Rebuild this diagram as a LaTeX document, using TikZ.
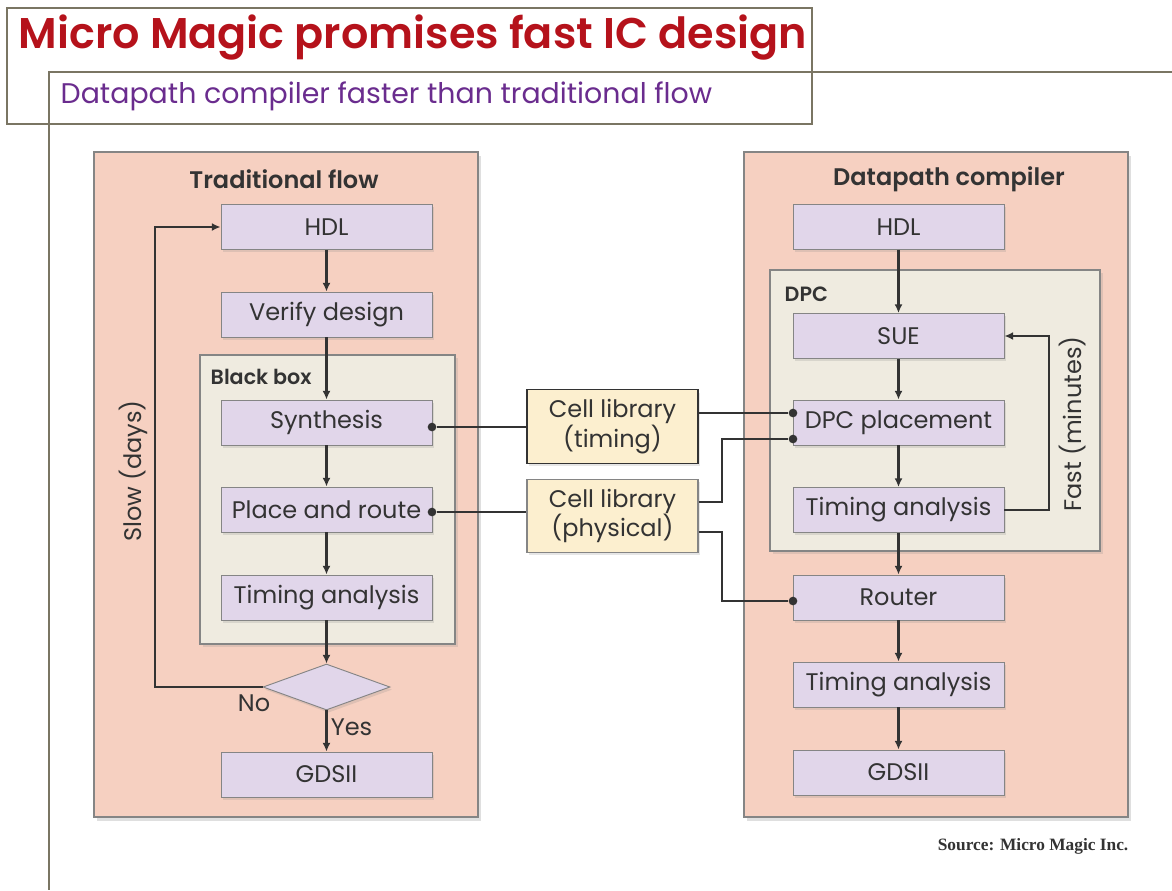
\documentclass[tikz,border=0pt]{standalone}
\usepackage{fontspec}
\setmainfont{Poppins}[BoldFont=* SemiBold]
\usetikzlibrary{arrows.meta,shapes.geometric,shadows}
\definecolor{frameline}{HTML}{7A7563}
\definecolor{titlered}{HTML}{B5121B}
\definecolor{subpurple}{HTML}{6A2C8E}
\definecolor{salmon}{HTML}{F6D0C1}
\definecolor{lilac}{HTML}{E1D6EA}
\definecolor{beige}{HTML}{EFEBE0}
\definecolor{cream}{HTML}{FCEFCF}
\definecolor{bordergray}{HTML}{858585}
\definecolor{ink}{HTML}{333333}
\tikzset{
  panel/.style={draw=bordergray, line width=1pt, fill=salmon, drop shadow={opacity=0.25, shadow xshift=2pt, shadow yshift=-3pt}},
  inner/.style={draw=bordergray, line width=0.8pt, fill=beige, drop shadow={opacity=0.2, shadow xshift=2pt, shadow yshift=-2pt}},
  stepbox/.style={draw=bordergray, line width=0.7pt, fill=lilac, text=ink, font=\fontsize{18}{20}\selectfont,
    minimum width=158.25pt, minimum height=33.75pt, inner sep=0pt,
    drop shadow={opacity=0.2, shadow xshift=1.5pt, shadow yshift=-2pt}},
  libbox/.style={draw=ink, line width=0.8pt, fill=cream, text=ink, font=\fontsize{18}{21}\selectfont,
    minimum width=128.25pt, minimum height=55pt, inner sep=0pt, align=center,
    drop shadow={opacity=0.2, shadow xshift=1.5pt, shadow yshift=-2pt}},
  arr/.style={draw=ink, line width=1.8pt, -{Latex[length=6.5pt,width=6pt]}},
  conn/.style={draw=ink, line width=1.8pt},
  dot/.style={circle, fill=ink, inner sep=0pt, minimum size=6.5pt},
  heading/.style={font=\fontsize{18}{20}\selectfont\bfseries, text=ink},
  small/.style={font=\fontsize{15.5}{17}\selectfont\bfseries, text=ink, anchor=west},
  side/.style={font=\fontsize{18}{20}\selectfont, text=ink, rotate=90},
  lbl/.style={text=ink, font=\fontsize{18}{20}\selectfont},
}
\begin{document}
\begin{tikzpicture}[x=0.75pt,y=-0.75pt]
\useasboundingbox (0,0) rectangle (1172,890);
% frames
\draw[frameline, line width=1.5pt] (7,8) rectangle (812,124);
\coordinate (h0) at (49,72);
\coordinate (h1) at (1172,72);
\coordinate (v1) at (49,890);
\draw[frameline, line width=1.5pt] (h1) -- (h0) -- (v1);
\node[anchor=west, text=titlered, font=\fontsize{32.2}{34}\selectfont\bfseries] (title) at (14,38) {Micro Magic promises fast IC design};
\node[anchor=west, text=subpurple, font=\fontsize{21.3}{23}\selectfont] (subtitle) at (56,96) {Datapath compiler faster than traditional flow};

% left panel
\path[panel] (94,152) rectangle (478,817);
\node[heading] (lhead) at (284,179) {Traditional flow};
\path[inner] (200,355) rectangle (455,644);
\node[small] (bb) at (206,377) {Black box};
\node[stepbox] (lhdl) at (326.5,227) {HDL};
\node[stepbox] (verify) at (326.5,314.5) {Verify design};
\node[stepbox] (synth) at (326.5,422.5) {Synthesis};
\node[stepbox] (pnr) at (326.5,509.5) {Place and route};
\node[stepbox] (lta) at (326.5,597.5) {Timing analysis};
\node[diamond, draw=bordergray, line width=0.7pt, fill=lilac, minimum width=95.25pt, minimum height=34.5pt, inner sep=0pt, drop shadow={opacity=0.2, shadow xshift=1.5pt, shadow yshift=-2pt}] (dec) at (326.5,687) {};
\node[stepbox] (lgds) at (326.5,774.5) {GDSII};
\draw[arr] (lhdl) -- (verify);
\draw[arr] (verify) -- (synth);
\draw[arr] (synth) -- (pnr);
\draw[arr] (pnr) -- (lta);
\draw[arr] (lta) -- (dec);
\draw[arr] (dec) -- node[right, lbl, pos=0.4, xshift=-1pt] {Yes} (lgds);
\coordinate (lloopb) at (155,687);
\coordinate (lloopt) at (155,227);
\draw[arr] (dec.west) -- (lloopb) -- (lloopt) -- (lhdl.west);
\node[lbl] (no) at (254,703) {No};
\node[side] (slow) at (133,471) {Slow (days)};

% right panel
\path[panel] (744,152) rectangle (1128,817);
\node[heading] (rhead) at (949,179) {Datapath compiler};
\path[inner] (770,270) rectangle (1100,551);
\node[small] (dpc) at (780,294) {DPC};
\node[stepbox] (rhdl) at (898.5,227) {HDL};
\node[stepbox] (sue) at (898.5,336) {SUE};
\node[stepbox] (place) at (898.5,422.5) {DPC placement};
\node[stepbox] (rta) at (898.5,510) {Timing analysis};
\node[stepbox] (router) at (898.5,597.5) {Router};
\node[stepbox] (rta2) at (898.5,684.5) {Timing analysis};
\node[stepbox] (rgds) at (898.5,772.5) {GDSII};
\draw[arr] (rhdl) -- (sue);
\draw[arr] (sue) -- (place);
\draw[arr] (place) -- (rta);
\draw[arr] (rta) -- (router);
\draw[arr] (router) -- (rta2);
\draw[arr] (rta2) -- (rgds);
\coordinate (rloopb) at (1049,510);
\coordinate (rloopt) at (1049,336);
\draw[arr] (rta.east) -- (rloopb) -- (rloopt) -- (sue.east);
\node[side] (fast) at (1073,424) {Fast (minutes)};

% cell libraries
\node[libbox] (libt) at (612.5,426.5) {Cell library\\(timing)};
\node[libbox, draw=bordergray] (libp) at (612.5,516) {Cell library\\(physical)};
\node[dot] (d1) at (432,427) {};
\node[dot] (d2) at (432,512) {};
\node[dot] (d3) at (793,413) {};
\node[dot] (d4) at (793,439) {};
\node[dot] (d5) at (793,601) {};
\draw[conn] (d1) -- (libt.west |- d1);
\draw[conn] (d2) -- (libp.west |- d2);
\draw[conn] (libt.east |- d3) -- (d3);
\coordinate (p1) at (722,502);
\coordinate (p2) at (722,532);
\draw[conn] (libp.east |- p1) -- (p1) |- (d4);
\draw[conn] (libp.east |- p2) -- (p2) |- (d5);

\node[anchor=east, font=\fontsize{13}{14}\selectfont\bfseries\fontspec{Liberation Serif}, text=ink] (src) at (1133,846) {Source: Micro Magic Inc.};
\end{tikzpicture}
\end{document}
